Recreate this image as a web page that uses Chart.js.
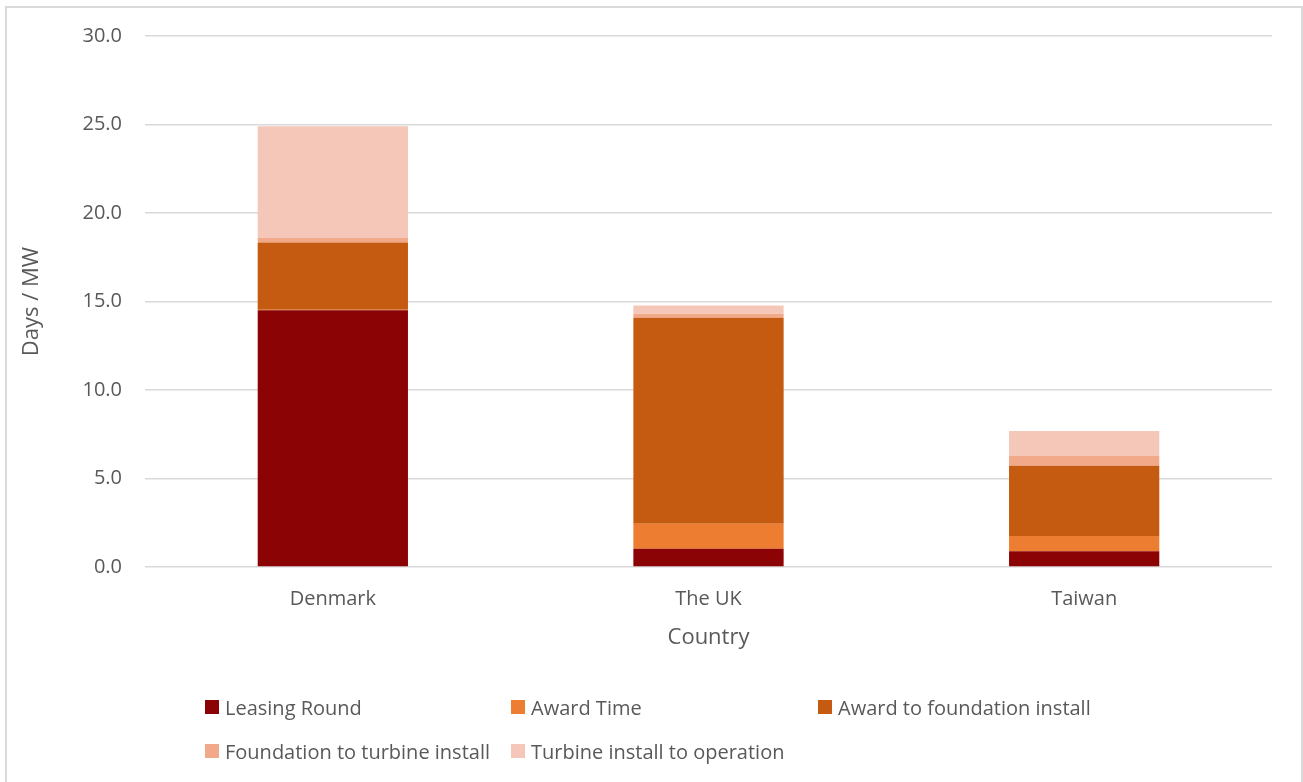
<!DOCTYPE html>
<html>
<head>
<meta charset="utf-8">
<title>Days per MW by country</title>
<script src="https://cdn.jsdelivr.net/npm/chart.js@4.4.1/dist/chart.umd.min.js"></script>
<style>
  html, body { margin: 0; padding: 0; background: #fff; overflow: hidden; }
  #frame {
    position: absolute; left: 5px; top: 6px; width: 1294px; height: 800px;
    border: 2px solid #d9d9d9; border-bottom: none;
  }
  #wrap { position: absolute; left: 0; top: 0; width: 1303px; height: 782px; }
  #legend { position: absolute; left: 0; top: 0; font-family: "Open Sans", sans-serif; font-size: 20px; color: #595959; }
  .item { position: absolute; display: flex; align-items: center; white-space: nowrap; height: 30px; }
  .swatch { width: 14px; height: 14px; margin-right: 6px; }
</style>
</head>
<body>
<div id="frame"></div>
<div id="wrap">
  <canvas id="chart" width="1303" height="782"></canvas>
  <div id="legend"></div>
</div>
<script>
// categories and stage durations (days per MW)
const countries = ["Denmark", "The UK", "Taiwan"];
const leasingRound = [14.5, 1.03, 0.89];
const awardTime = [0.03, 1.42, 0.86];
const awardToFoundation = [3.8, 11.63, 3.97];
const foundationToTurbine = [0.27, 0.23, 0.57];
const turbineToOperation = [6.3, 0.47, 1.39];
const yTicks = [0, 5, 10, 15, 20, 25, 30];

const stages = [
  { label: "Leasing Round", data: leasingRound, color: "#8b0304" },
  { label: "Award Time", data: awardTime, color: "#ed7d31" },
  { label: "Award to foundation install", data: awardToFoundation, color: "#c55a11" },
  { label: "Foundation to turbine install", data: foundationToTurbine, color: "#f1a98a" },
  { label: "Turbine install to operation", data: turbineToOperation, color: "#f4c7b8" }
];

const textColor = "#595959";
const gridColor = "#d9d9d9";
const font = "'Open Sans', sans-serif";

const ctx = document.getElementById("chart");
const chart = new Chart(ctx, {
  type: "bar",
  data: {
    labels: countries,
    datasets: stages.map(s => ({
      label: s.label,
      data: s.data,
      backgroundColor: s.color,
      borderWidth: 0,
      categoryPercentage: 1.0,
      barPercentage: 0.4
    }))
  },
  options: {
    responsive: false,
    animation: false,
    layout: { padding: { top: 36, right: 31, bottom: 131, left: 0 } },
    plugins: {
      legend: { display: false },
      tooltip: { enabled: false }
    },
    scales: {
      x: {
        stacked: true,
        afterFit: scale => { scale.height = 84; },
        grid: { display: false, drawTicks: false },
        border: { display: false },
        ticks: { color: textColor, font: { family: font, size: 20 }, padding: 20 },
        title: {
          display: true, text: "Country", color: textColor,
          font: { family: font, size: 22 }, padding: { top: 13, bottom: 0 }
        }
      },
      y: {
        stacked: true,
        min: 0,
        max: 30,
        afterFit: scale => { scale.width = 145; },
        afterBuildTicks: scale => { scale.ticks = yTicks.map(v => ({ value: v })); },
        grid: { color: gridColor, lineWidth: 1.5, drawTicks: false },
        border: { display: false },
        ticks: {
          color: textColor, font: { family: font, size: 20 }, padding: 23,
          callback: v => Number(v).toFixed(1)
        },
        title: {
          display: true, text: "Days / MW", color: textColor,
          font: { family: font, size: 22 }, padding: { top: 19, bottom: 0 }
        }
      }
    }
  }
});

// legend laid out in three fixed columns, two rows
const legendEl = document.getElementById("legend");
const cols = [205, 511, 818];
const rows = [707, 751];
stages.forEach((s, i) => {
  const item = document.createElement("div");
  item.className = "item";
  item.style.left = cols[i % 3] + "px";
  item.style.top = (rows[Math.floor(i / 3)] - 15) + "px";
  const sw = document.createElement("span");
  sw.className = "swatch";
  sw.style.background = s.color;
  const txt = document.createElement("span");
  txt.textContent = s.label;
  item.appendChild(sw);
  item.appendChild(txt);
  legendEl.appendChild(item);
});
</script>
</body>
</html>
